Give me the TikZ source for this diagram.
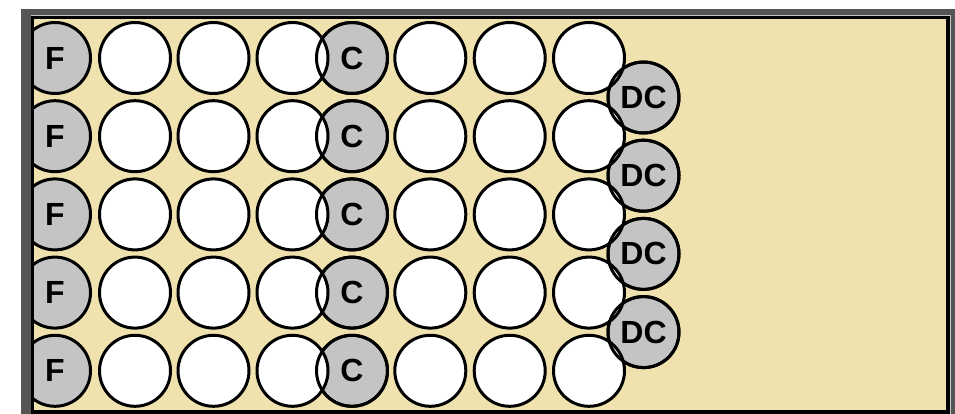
\documentclass[tikz,border=0pt]{standalone}
\usepackage{fontspec}
\setmainfont{Liberation Sans}

\definecolor{boardbg}{HTML}{EFE2AE}
\definecolor{keygray}{HTML}{C4C4C4}
\definecolor{framegray}{HTML}{555555}

\begin{document}
\begin{tikzpicture}[x=1pt,y=-1pt,line width=3pt,
        hole/.style={draw, circle, fill=white, minimum size=71pt, inner sep=0pt},
        key/.style={hole, fill=keygray, font=\fontsize{32}{32}\selectfont\bfseries}]
    \useasboundingbox (0,0) rectangle (955,414);
    % frame round the board
    \fill[framegray] (21,9) rectangle (955,414);
    \draw[gray!45, line width=0.8pt] (31,15.6) -- (950.4,15.6) -- (950.4,414);
    \draw[black, fill=boardbg, line width=3.5pt] (32.5,17.5) rectangle (948,412);
    \begin{scope}
        \clip (34,19) rectangle (946,410);
        % grey keys first
        \foreach \r in {1,...,5} {
            \node (f\r) [key] at (55, {58+78.2*(\r-1)}) {F};
            \node (c\r) [key] at (352, {58+78.2*(\r-1)}) {C};
        }
        \foreach \r in {1,...,4}
            \node (dc\r) [key] at (643.5, {97.5+78.2*(\r-1)}) {DC};
        % white holes on top
        \foreach \r in {1,...,5}
            \foreach \x [count=\c] in {135,213.5,292.5,430.3,509.7,589}
                \node (h\r-\c) [hole] at (\x, {58+78.2*(\r-1)}) {};
        % key outlines again
        \foreach \r in {1,...,5}
            \draw (c\r.center) circle[radius=35.5pt];
        \foreach \r in {1,...,4}
            \draw (dc\r.center) circle[radius=35.5pt];
    \end{scope}
\end{tikzpicture}
\end{document}
